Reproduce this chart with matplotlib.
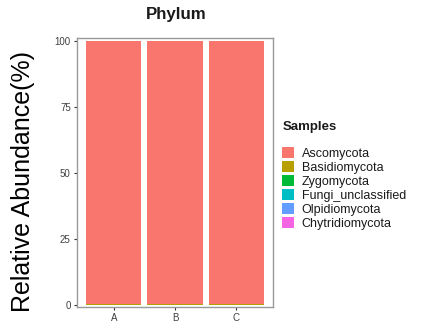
import matplotlib
matplotlib.use("Agg")
import matplotlib.pyplot as plt
import numpy as np

plt.rcParams['font.family'] = ['Liberation Sans', 'DejaVu Sans']

samples = ["A", "B", "C"]
phyla = ["Ascomycota", "Basidiomycota", "Zygomycota", "Fungi_unclassified",
         "Olpidiomycota", "Chytridiomycota"]
colors = ["#F8766D", "#B79F00", "#00BA38", "#00BFC4", "#619CFF", "#F564E3"]

# relative abundance (%) per phylum for samples A, B, C
ascomycota = [99.40, 99.45, 99.42]
basidiomycota = [0.45, 0.40, 0.43]
zygomycota = [0.08, 0.08, 0.08]
fungi_unclassified = [0.05, 0.05, 0.05]
olpidiomycota = [0.01, 0.01, 0.01]
chytridiomycota = [0.01, 0.01, 0.01]

values = [ascomycota, basidiomycota, zygomycota, fungi_unclassified,
          olpidiomycota, chytridiomycota]

fig = plt.figure(figsize=(4.21, 3.26), dpi=100)
W, H = 421, 326
ax = fig.add_axes([77 / W, 1 - 307 / H, 196 / W, 269.5 / H])

x = np.arange(1, len(samples) + 1)
bottom = np.zeros(len(samples))
handles = []
# stack in reverse so the first phylum sits on top
for name, vals, col in reversed(list(zip(phyla, values, colors))):
    b = ax.bar(x, vals, width=0.9, bottom=bottom, color=col, label=name,
               linewidth=0)
    bottom += np.array(vals)
    handles.append(b)
handles = handles[::-1]

ax.set_xlim(0.4, 3.6)
ax.set_ylim(-0.6, 101.5)
ax.set_xticks(x)
ax.set_xticklabels(samples)
ax.set_yticks([0, 25, 50, 75, 100])
ax.tick_params(axis='both', length=2.5, width=0.8, color='#333333',
               labelsize=7, labelcolor='#404040', pad=2)
for s in ax.spines.values():
    s.set_color('#999999')
    s.set_linewidth(1.0)

fig.text(176 / W, 1 - 15 / H, "Phylum", ha='center', va='center',
         fontsize=12.2, fontweight='bold', color='#1a1a1a')
fig.text(23 / W, 1 - 181 / H, "Relative Abundance(%)", ha='center',
         va='center', rotation=90, fontsize=18, color='black')

leg = fig.legend(handles, phyla, loc='upper left',
                 bbox_to_anchor=(281 / W, 1 - 120 / H),
                 frameon=False, fontsize=9, title="Samples",
                 title_fontproperties={'weight': 'bold', 'size': 9.5},
                 handlelength=0.95, handleheight=0.95, labelspacing=0.1,
                 handletextpad=0.6, borderpad=0.1, borderaxespad=0)
leg._legend_box.align = "left"
leg._legend_box.sep = 10
leg.get_title().set_color('#1a1a1a')
for t in leg.get_texts():
    t.set_color('#1a1a1a')

fig.savefig("out.png", dpi=100, facecolor='white')
